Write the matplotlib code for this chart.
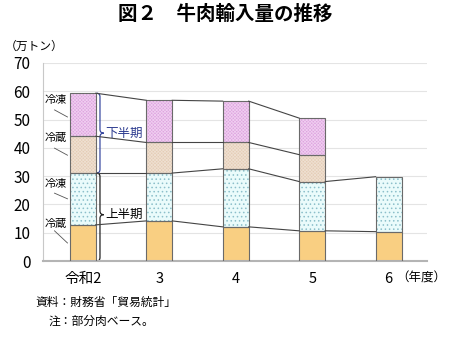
import numpy as np
import matplotlib.pyplot as plt
from matplotlib.path import Path
from matplotlib.patches import PathPatch

plt.rcParams['font.family'] = ['Noto Sans CJK JP', 'DejaVu Sans']
plt.rcParams['hatch.linewidth'] = 0.6

# データ（万トン）
years = ["令和2", "3", "4", "5", "6"]
chilled_h1 = [12.8, 14.2, 12.1, 10.7, 10.4]   # 上半期 冷蔵
frozen_h1 = [18.3, 16.9, 20.5, 17.4, 19.4]    # 上半期 冷凍
chilled_h2 = [13.0, 10.8, 9.3, 9.5]           # 下半期 冷蔵
frozen_h2 = [15.2, 14.9, 14.6, 12.9]          # 下半期 冷凍

EDGE = '#6a6a6a'
LINE = '#444444'


def brace(ax, x0, y0, y1, ymid, color, dx=0.045, tip=0.05, r=1.3):
    """右向きの波括弧 } を描く"""
    xm = x0 + dx
    xt = xm + tip
    verts = [(x0, y1), (xm, y1), (xm, y1 - r),
             (xm, ymid + r),
             (xm, ymid), (xt, ymid),
             (xm, ymid), (xm, ymid - r),
             (xm, y0 + r),
             (xm, y0), (x0, y0)]
    codes = [Path.MOVETO, Path.CURVE3, Path.CURVE3,
             Path.LINETO,
             Path.CURVE3, Path.CURVE3,
             Path.CURVE3, Path.CURVE3,
             Path.LINETO,
             Path.CURVE3, Path.CURVE3]
    ax.add_patch(PathPatch(Path(verts, codes), fill=False, edgecolor=color, lw=0.9,
                           clip_on=False))
    return xt


def stack(ax, xs, heights, bottoms, face, hatch, hcolor, w):
    ax.bar(xs, heights, w, bottom=bottoms, color=face, edgecolor=hcolor,
           hatch=hatch, linewidth=0, zorder=2)
    ax.bar(xs, heights, w, bottom=bottoms, fill=False, edgecolor=EDGE,
           linewidth=0.8, zorder=3)


fig = plt.figure(figsize=(4.5, 3.4), dpi=100)
ax = fig.add_axes([0.0956, 0.232, 0.853, 0.583])

x = np.arange(len(years))
w = 0.34
c1 = np.array(chilled_h1)
f1 = np.array(frozen_h1)
c2 = np.array(chilled_h2)
f2 = np.array(frozen_h2)
n2 = len(c2)

top_c1 = c1
top_f1 = c1 + f1
top_c2 = top_f1[:n2] + c2
top_f2 = top_c2 + f2

stack(ax, x, c1, 0, '#f9cf82', None, '#f9cf82', w)
stack(ax, x, f1, top_c1, '#eafbfb', '....', '#8cbfca', w)
stack(ax, x[:n2], c2, top_f1[:n2], '#e4cdb6', 'x' * 10, '#eedfd0', w)
stack(ax, x[:n2], f2, top_c2, '#dea4e0', 'x' * 10, '#efcdef', w)

# 棒の間をつなぐ線
for lv in [top_c1, top_f1, top_c2, top_f2]:
    for i in range(len(lv) - 1):
        ax.plot([x[i] + w / 2, x[i + 1] - w / 2], [lv[i], lv[i + 1]],
                color=LINE, lw=0.8, zorder=4)

ax.set_xlim(-0.52, 4.5)
ax.set_ylim(0, 70)
ax.set_yticks(range(0, 71, 10))
ax.yaxis.grid(True, color='#e4e4e4', lw=0.8, zorder=0)
ax.set_axisbelow(True)
ax.tick_params(axis='y', length=0, pad=9, labelsize=11)
ax.tick_params(axis='x', length=0, pad=8, labelsize=10.5)
ax.set_xticks(x)
ax.set_xticklabels(years)
for s in ['top', 'right']:
    ax.spines[s].set_visible(False)
ax.spines['left'].set_color('#c8c8c8')
ax.spines['bottom'].set_color('#b4b4b4')
ax.spines['bottom'].set_linewidth(1.5)

# 冷凍・冷蔵ラベル（最初の棒）
lab_x = -0.50
labels = [("冷凍", 57.0, 53.4, 50.9),
          ("冷蔵", 43.4, 39.9, 37.4),
          ("冷凍", 27.4, 24.0, 22.0),
          ("冷蔵", 13.2, 10.7, 6.4)]
for txt, ty, ly0, ly1 in labels:
    ax.text(lab_x, ty, txt, fontsize=8, ha='left', va='center', zorder=5)
    ax.plot([-0.37, -0.20], [ly0, ly1], color='#555555', lw=0.6, zorder=5)

# 括弧
bx = x[0] + w / 2 + 0.01
xt = brace(ax, bx, top_f1[0], top_f2[0], 45.2, '#3a4aa0')
ax.text(xt + 0.02, 45.2, "下半期", color='#2b3a8f', fontsize=9, ha='left', va='center')
xt = brace(ax, bx, 0, top_f1[0], 16.4, '#222222')
ax.text(xt + 0.02, 16.4, "上半期", color='black', fontsize=9, ha='left', va='center')

fig.text(0.5, 0.958, "図２　牛肉輸入量の推移", ha='center', va='center',
         fontsize=14, fontweight='bold')
fig.text(0.01, 0.865, "（万トン）", ha='left', va='center', fontsize=8.5)
fig.text(0.992, 0.182, "（年度）", ha='right', va='center', fontsize=9)
fig.text(0.078, 0.112, "資料：財務省「貿易統計」", ha='left', va='center', fontsize=8.5)
fig.text(0.108, 0.056, "注：部分肉ベース。", ha='left', va='center', fontsize=8.5)

fig.savefig('out.png', dpi=100)
